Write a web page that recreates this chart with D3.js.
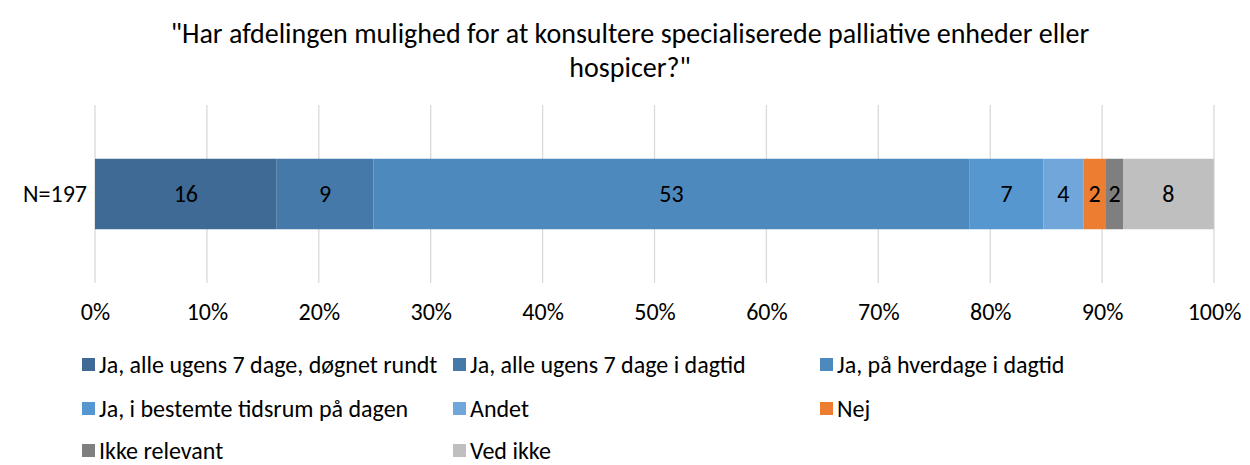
<!DOCTYPE html>
<html><head><meta charset="utf-8">
<script src="https://cdn.jsdelivr.net/npm/d3@7"></script>
<style>body{margin:0;background:#fff;} svg text{font-family:Carlito,Lato,"Liberation Sans",sans-serif;fill:#000;}</style>
</head><body>
<svg id="c" width="1250" height="465"></svg>
<script>
const titleLines = ['"Har afdelingen mulighed for at konsultere specialiserede palliative enheder eller', 'hospicer?"'];
const category = "N=197";
const seriesNames = ["Ja, alle ugens 7 dage, døgnet rundt","Ja, alle ugens 7 dage i dagtid","Ja, på hverdage i dagtid","Ja, i bestemte tidsrum på dagen","Andet","Nej","Ikke relevant","Ved ikke"];
const seriesValues = [16.24, 8.63, 53.30, 6.60, 3.55, 2.03, 1.52, 8.12];
const valueLabels = ["16","9","53","7","4","2","2","8"];
const tickValues = [0,10,20,30,40,50,60,70,80,90,100];
const colors = ["#3E6A95","#4579A9","#4E89BE","#5697D0","#70A6DA","#ED7D31","#7F7F7F","#BFBFBF"];

const FF = "Carlito,Lato,'Liberation Sans',sans-serif";
const svg = d3.select("#c");
const x = d3.scaleLinear().domain([0,100]).range([95,1214]);
const y = d3.scaleBand().domain([category]).range([105,283]).paddingInner(0.6).paddingOuter(0.305);

svg.selectAll(".title").data(titleLines).enter().append("text")
  .attr("x",630).attr("y",(d,i)=>43+i*34).attr("text-anchor","middle").attr("font-size",28).text(d=>d);

svg.append("g").selectAll("line").data(tickValues).enter().append("line")
  .attr("x1",d=>x(d)).attr("x2",d=>x(d)).attr("y1",105).attr("y2",283)
  .attr("stroke","#D9D9D9").attr("stroke-width",1.3);

const axis = d3.axisBottom(x).tickValues(tickValues).tickFormat(d=>d+"%").tickSize(0).tickPadding(0);
const ag = svg.append("g").attr("transform","translate(0,320)").call(axis);
ag.select(".domain").remove();
ag.selectAll("text").attr("font-size",24).attr("dy",0).style("font-family",FF);

let cum = 0;
const segs = seriesValues.map((v,i)=>{const s={i,x0:cum,x1:cum+v,label:valueLabels[i]};cum+=v;return s;});
const bg = svg.append("g");
bg.selectAll("rect").data(segs).enter().append("rect")
  .attr("x",d=>x(d.x0)).attr("width",d=>x(d.x1)-x(d.x0))
  .attr("y",y(category)).attr("height",y.bandwidth()).attr("fill",d=>colors[d.i]);
bg.selectAll("text").data(segs).enter().append("text")
  .attr("x",d=>(x(d.x0)+x(d.x1))/2).attr("y",y(category)+y.bandwidth()/2+8)
  .attr("text-anchor","middle").attr("font-size",24).text(d=>d.label);

svg.append("text").attr("x",87).attr("y",y(category)+y.bandwidth()/2+8).attr("text-anchor","end").attr("font-size",24).text(category);

const colX=[82,453,820], rowY=[365,409,451];
const lg = svg.append("g").selectAll("g").data(seriesNames).enter().append("g")
  .attr("transform",(d,i)=>`translate(${colX[i%3]},${rowY[Math.floor(i/3)]})`);
lg.append("rect").attr("x",0).attr("y",-7).attr("width",13).attr("height",13).attr("fill",(d,i)=>colors[i]);
lg.append("text").attr("x",17).attr("y",8).attr("font-size",24).text(d=>d);
</script>
</body></html>
